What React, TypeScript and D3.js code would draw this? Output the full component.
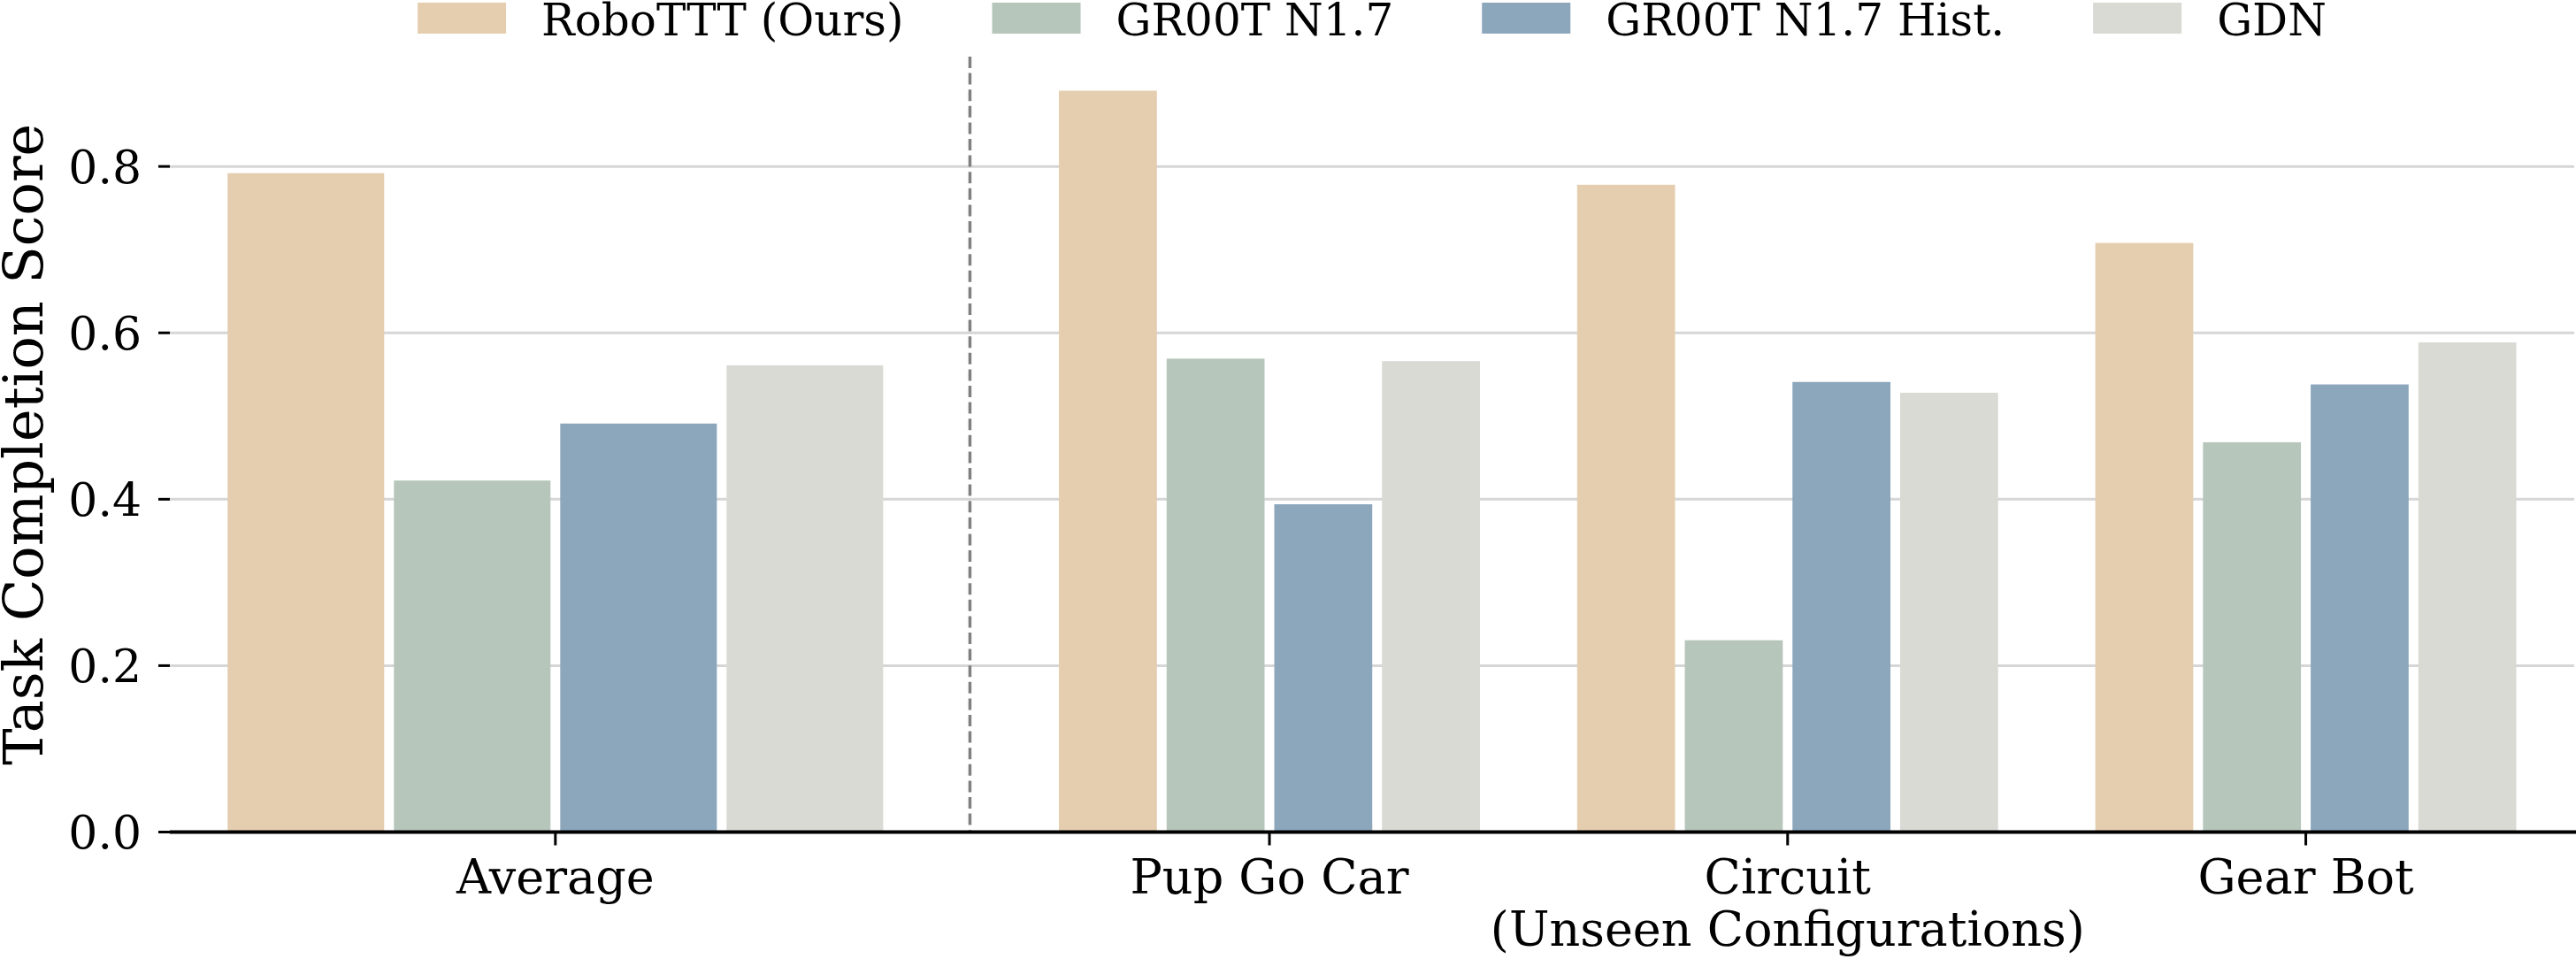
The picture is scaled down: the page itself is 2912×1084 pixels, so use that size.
import React, { useRef, useEffect } from 'react'
import { select, scaleLinear, scaleBand } from 'd3'

// Categories and scores per method
const tasks = ['Average', 'Pup Go Car', 'Circuit\n(Unseen Configurations)', 'Gear Bot']
const methods = ['RoboTTT (Ours)', 'GR00T N1.7', 'GR00T N1.7 Hist.', 'GDN']
const roboTTT = [0.792, 0.891, 0.778, 0.708]
const gr00t = [0.4225, 0.569, 0.2305, 0.4685]
const gr00tHist = [0.491, 0.394, 0.541, 0.538]
const gdn = [0.561, 0.566, 0.528, 0.5885]
const yTicks = [0.0, 0.2, 0.4, 0.6, 0.8]

const colors = ['#E5CEAF', '#B6C6BB', '#8CA7BC', '#D9DAD4']

// group layout in x-units (Average gets wider bars, divider sits between)
const groupCenters = [-1.378, 0, 1, 2]
const groupPitch = [0.321, 0.2078]
const dividerAt = -0.578

const W = 2912
const H = 1084
const FONT = "'DejaVu Serif', 'Liberation Serif', serif"

const BarChart = () => {
    const svgRef = useRef()

    useEffect(() => {
        document.body.style.margin = '0'
        const svg = select(svgRef.current)
        svg.selectAll('*').remove()

        const series = [roboTTT, gr00t, gr00tHist, gdn]

        const left = 192
        const right = 2910
        const x = scaleLinear().domain([-2.122, 2.518]).range([left, right])
        const y = scaleLinear().domain([0, 0.932]).range([940.5, 64])
        const unit = x(1) - x(0)

        // grid
        svg.append('g')
            .selectAll('line')
            .data(yTicks.filter(t => t > 0))
            .join('line')
            .attr('x1', left)
            .attr('x2', right)
            .attr('y1', d => y(d))
            .attr('y2', d => y(d))
            .attr('stroke', '#d6d6d6')
            .attr('stroke-width', 3)

        // bars
        const gap = 11
        const groups = svg.append('g')
            .selectAll('g')
            .data(tasks)
            .join('g')

        groups.each(function (task, gi) {
            const pitchPx = (gi === 0 ? groupPitch[0] : groupPitch[1]) * unit
            const cx = x(groupCenters[gi])
            const pad = gap / pitchPx
            const inner = scaleBand()
                .domain(methods)
                .range([cx - 2 * pitchPx, cx + 2 * pitchPx])
                .paddingInner(pad)
                .paddingOuter(pad / 2)
            select(this)
                .selectAll('rect')
                .data(methods.map((m, mi) => ({ m, mi, v: series[mi][gi] })))
                .join('rect')
                .attr('x', d => inner(d.m))
                .attr('width', inner.bandwidth())
                .attr('y', d => y(d.v))
                .attr('height', d => y(0) - y(d.v))
                .attr('fill', d => colors[d.mi])
        })

        // divider between average and per-task groups
        svg.append('line')
            .attr('x1', x(dividerAt))
            .attr('x2', x(dividerAt))
            .attr('y1', y.range()[1])
            .attr('y2', y(0))
            .attr('stroke', '#808080')
            .attr('stroke-width', 3.5)
            .attr('stroke-dasharray', '13 5.6')

        // y axis ticks + labels (no spine)
        const yAxis = svg.append('g')
        yAxis.selectAll('line')
            .data(yTicks)
            .join('line')
            .attr('x1', left - 13)
            .attr('x2', left)
            .attr('y1', d => y(d))
            .attr('y2', d => y(d))
            .attr('stroke', '#000')
            .attr('stroke-width', 3)
        yAxis.selectAll('text')
            .data(yTicks)
            .join('text')
            .attr('x', 160)
            .attr('y', d => y(d))
            .attr('dy', '0.36em')
            .attr('text-anchor', 'end')
            .attr('font-family', FONT)
            .attr('font-size', 52)
            .text(d => d.toFixed(1))

        svg.append('text')
            .attr('transform', `translate(48, ${(y.range()[0] + y.range()[1]) / 2}) rotate(-90)`)
            .attr('text-anchor', 'middle')
            .attr('font-family', FONT)
            .attr('font-size', 62)
            .text('Task Completion Score')

        // bottom spine
        svg.append('line')
            .attr('x1', left)
            .attr('x2', W)
            .attr('y1', y(0))
            .attr('y2', y(0))
            .attr('stroke', '#000')
            .attr('stroke-width', 4)

        // x ticks + labels
        const xAxis = svg.append('g')
        xAxis.selectAll('line')
            .data(tasks)
            .join('line')
            .attr('x1', (d, i) => x(groupCenters[i]))
            .attr('x2', (d, i) => x(groupCenters[i]))
            .attr('y1', y(0))
            .attr('y2', y(0) + 15)
            .attr('stroke', '#000')
            .attr('stroke-width', 3)
        xAxis.selectAll('text')
            .data(tasks)
            .join('text')
            .attr('x', (d, i) => x(groupCenters[i]))
            .attr('y', 1010)
            .attr('text-anchor', 'middle')
            .attr('font-family', FONT)
            .attr('font-size', 54)
            .each(function (d, i) {
                select(this)
                    .selectAll('tspan')
                    .data(d.split('\n'))
                    .join('tspan')
                    .attr('x', x(groupCenters[i]))
                    .attr('dy', (t, k) => (k === 0 ? 0 : 59))
                    .text(t => t)
            })

        // legend, centred over the axes
        const legend = svg.append('g')
        const items = methods.map((m, i) => {
            const g = legend.append('g')
            g.append('rect')
                .attr('x', 0)
                .attr('y', 3)
                .attr('width', 100)
                .attr('height', 35)
                .attr('fill', colors[i])
            const t = g.append('text')
                .attr('x', 140)
                .attr('y', 40)
                .attr('font-family', FONT)
                .attr('font-size', 50)
                .text(m)
            return { g, w: 140 + t.node().getComputedTextLength() }
        })
        const total = items.reduce((s, it) => s + it.w, 0) + 100 * (items.length - 1)
        let cursor = (left + right) / 2 - total / 2
        items.forEach(it => {
            it.g.attr('transform', `translate(${cursor}, 0)`)
            cursor += it.w + 100
        })
    }, [])

    return (
        <svg ref={svgRef} width={W} height={H}
            style={{ display: 'block', backgroundColor: 'white' }} />
    )
}

export default function App() {
    return <BarChart />
}
